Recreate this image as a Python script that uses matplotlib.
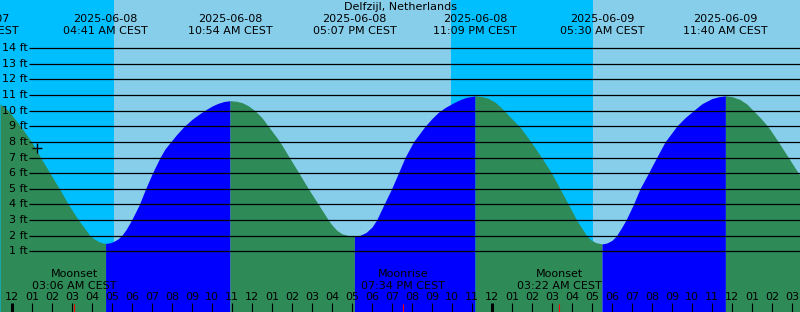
import numpy as np
import matplotlib
matplotlib.use("Agg")
import matplotlib.pyplot as plt

# hours after 2025-06-08 00:00 CEST, heights in feet
tide_hours = [-0.6, -0.18, 0.43, 0.98, 1.43, 1.9, 2.37, 2.82, 3.32, 3.9, 4.1, 4.3, 4.5, 4.68,
              4.9, 5.1, 5.3, 5.48, 5.7, 5.98, 6.37, 6.68, 7.02, 7.4, 7.65, 7.93, 8.25, 8.57,
              9.0, 9.4, 9.7, 10.0, 10.3, 10.6, 10.9,
              11.2, 11.5, 11.8, 12.15, 12.5, 12.82, 13.4, 13.87, 14.35, 14.82, 15.32, 15.82,
              16.0, 16.25, 16.5, 16.8, 17.12,
              17.4, 17.7, 18.0, 18.23, 18.6, 18.98, 19.4, 19.65, 20.07, 20.65, 21.0, 21.32,
              21.65, 22.0, 22.35, 22.7, 23.15,
              23.5, 23.8, 24.15, 24.5, 24.9, 25.4, 25.95, 26.48, 26.98, 27.4, 27.82, 28.23,
              28.73, 28.95, 29.2, 29.5,
              29.75, 30.0, 30.2, 30.45, 30.7, 31.07, 31.4, 31.82, 32.23, 32.65, 33.23, 33.65,
              34.07, 34.5, 35.0, 35.35, 35.67,
              36.0, 36.4, 36.75, 37.07, 37.45, 37.82, 38.32, 38.82, 39.32, 39.4]
tide_feet = [10.44, 10.0, 9.0, 8.0, 7.0, 6.0, 5.0, 4.0, 3.0, 2.0, 1.8, 1.65, 1.54, 1.5,
             1.54, 1.64, 1.79, 2.0, 2.38, 3.0, 4.0, 5.0, 6.0, 7.0, 7.55, 8.0, 8.5, 8.95,
             9.45, 9.82, 10.07, 10.3, 10.47, 10.59, 10.64,
             10.61, 10.52, 10.33, 10.0, 9.55, 9.0, 8.0, 7.0, 6.0, 5.0, 4.0, 3.0,
             2.68, 2.33, 2.12, 2.01, 1.97,
             2.02, 2.2, 2.55, 3.0, 4.0, 5.0, 6.25, 7.0, 8.0, 9.0, 9.5, 9.9,
             10.2, 10.45, 10.68, 10.85, 10.95,
             10.9, 10.8, 10.55, 10.15, 9.6, 8.95, 8.0, 7.0, 6.0, 5.0, 4.0, 3.0,
             2.0, 1.72, 1.55, 1.47,
             1.53, 1.7, 1.95, 2.45, 3.0, 4.0, 5.0, 6.0, 7.0, 8.0, 9.0, 9.55,
             10.0, 10.45, 10.78, 10.9, 10.95,
             10.9, 10.72, 10.42, 10.0, 9.5, 8.95, 8.0, 7.0, 6.0, 5.85]

# high / low tide events (first one is the previous day's high, off the left edge)
event_hours = [-1.75, 4.68, 10.9, 17.12, 23.15, 29.5, 35.67]
event_dates = ["2025-06-07", "2025-06-08", "2025-06-08", "2025-06-08",
               "2025-06-08", "2025-06-09", "2025-06-09"]
event_times = ["10:15 PM CEST", "04:41 AM CEST", "10:54 AM CEST", "05:07 PM CEST",
               "11:09 PM CEST", "05:30 AM CEST", "11:40 AM CEST"]

night_spans = [(-0.6, 5.1), (21.95, 29.07)]

moon_hours = [3.1, 19.57, 27.37]
moon_names = ["Moonset", "Moonrise", "Moonset"]
moon_times = ["03:06 AM CEST", "07:34 PM CEST", "03:22 AM CEST"]

now_hour = 1.27
now_feet = 7.6

feet_levels = list(range(1, 15))
hour_ticks = list(range(0, 40))

DAY = "#87CEEB"
NIGHT = "#00BFFF"
FALLING = "#2E8B57"
RISING = "#0000FF"

X0, X1 = -0.6, 39.4
Y0, Y1 = -2.89, 17.09


def hx(px):
    return (px - 12) / 20.0


def fy(py):
    return (266.9 - py) / 15.615


fig = plt.figure(figsize=(8, 3.12), dpi=100)
ax = fig.add_axes([0, 0, 1, 1])
ax.set_xlim(X0, X1)
ax.set_ylim(Y0, Y1)
ax.axis("off")
ax.add_patch(plt.Rectangle((X0, Y0), X1 - X0, Y1 - Y0, color=DAY, lw=0, zorder=0))
for a, b in night_spans:
    ax.axvspan(a, b, color=NIGHT, lw=0, zorder=1)

t = np.array(tide_hours)
f = np.array(tide_feet)
bounds = [t[0]] + event_hours[1:] + [t[-1]]
for i, (a, b) in enumerate(zip(bounds[:-1], bounds[1:])):
    m = (t >= a) & (t <= b)
    col = FALLING if i % 2 == 0 else RISING
    ax.fill_between(t[m], f[m], Y0, color=col, lw=0, antialiased=False, zorder=2)

ax.hlines(feet_levels, hx(29), X1, color="black", lw=0.9, zorder=3)
fs = 8
for ft in feet_levels:
    ax.text(hx(27.5), ft, f"{ft} ft", ha="right", va="center", fontsize=fs, zorder=4)

ax.plot([now_hour], [now_feet], marker="+", ms=7, mew=1, color="black", zorder=5)

ax.text(hx(400), fy(7), "Delfzijl, Netherlands", ha="center", va="center", fontsize=fs, zorder=4)
for h, d, tm in zip(event_hours, event_dates, event_times):
    ax.text(h, fy(19), d, ha="center", va="center", fontsize=fs, zorder=4)
    ax.text(h, fy(31.5), tm, ha="center", va="center", fontsize=fs, zorder=4)

for h, nm, tm in zip(moon_hours, moon_names, moon_times):
    ax.text(h, fy(274), nm, ha="center", va="center", fontsize=fs, zorder=4)
    ax.text(h, fy(286), tm, ha="center", va="center", fontsize=fs, zorder=4)
    ax.vlines(h, Y0, fy(304), color="red", lw=0.8, zorder=4)

for h in hour_ticks:
    lab = f"{(h % 12) or 12:02d}"
    ax.text(h, fy(297.5), lab, ha="center", va="center", fontsize=fs, zorder=4)
    lw = 2.2 if h % 24 == 0 else 0.8
    ax.vlines(h, Y0, fy(303), color="black", lw=lw, zorder=4)

fig.savefig("out.png", dpi=100)
